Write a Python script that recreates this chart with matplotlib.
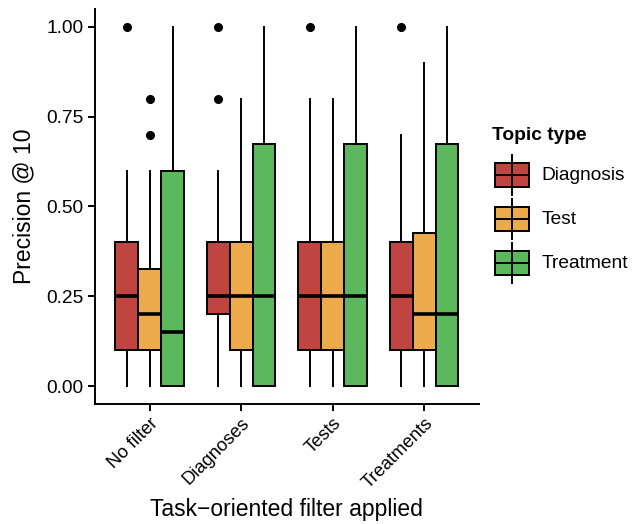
import matplotlib
matplotlib.use("Agg")
import matplotlib.pyplot as plt
from matplotlib.patches import Rectangle

plt.rcParams['font.family'] = ['Liberation Sans', 'DejaVu Sans']

filters = ["No filter", "Diagnoses", "Tests", "Treatments"]
topics = ["Diagnosis", "Test", "Treatment"]
colors = ["#C0443F", "#ECAA4A", "#5CB85C"]

# per topic, per filter: [whislo, q1, med, q3, whishi]
diagnosis_stats = [[0, 0.10, 0.25, 0.40, 0.60],
                   [0, 0.20, 0.25, 0.40, 0.60],
                   [0, 0.10, 0.25, 0.40, 0.80],
                   [0, 0.10, 0.25, 0.40, 0.70]]
test_stats = [[0, 0.10, 0.20, 0.325, 0.60],
              [0, 0.10, 0.25, 0.40, 0.80],
              [0, 0.10, 0.25, 0.40, 0.80],
              [0, 0.10, 0.20, 0.425, 0.90]]
treatment_stats = [[0, 0.0, 0.15, 0.60, 1.00],
                   [0, 0.0, 0.25, 0.675, 1.00],
                   [0, 0.0, 0.25, 0.675, 1.00],
                   [0, 0.0, 0.20, 0.675, 1.00]]
diagnosis_fliers = [[1.0], [1.0, 0.8], [1.0], [1.0]]
test_fliers = [[0.8, 0.7], [], [], []]
treatment_fliers = [[], [], [], []]

all_stats = [diagnosis_stats, test_stats, treatment_stats]
all_fliers = [diagnosis_fliers, test_fliers, treatment_fliers]

fig = plt.figure(figsize=(6.32, 5.24), dpi=100)
ax = fig.add_axes([0.150, 0.229, 0.608, 0.754])

width = 0.25
for t, (stats, fliers, col) in enumerate(zip(all_stats, all_fliers, colors)):
    bstats = []
    for s, f in zip(stats, fliers):
        bstats.append(dict(whislo=s[0], q1=s[1], med=s[2], q3=s[3], whishi=s[4], fliers=f))
    positions = [i + 1 + (t - 1) * width for i in range(len(filters))]
    ax.bxp(bstats, positions=positions, widths=width, patch_artist=True,
           showcaps=False,
           boxprops=dict(facecolor=col, edgecolor='black', linewidth=1.4),
           whiskerprops=dict(color='black', linewidth=1.4),
           medianprops=dict(color='black', linewidth=2.6, solid_capstyle='butt'),
           flierprops=dict(marker='o', markerfacecolor='black', markeredgecolor='black',
                           markersize=5.5))

ax.set_xlim(0.4, 4.6)
ax.set_ylim(-0.05, 1.05)
ax.set_xticks(range(1, 5))
ax.set_xticklabels(filters, rotation=45, ha='right', rotation_mode='anchor', fontsize=13.2)
ax.set_yticks([0, 0.25, 0.5, 0.75, 1.0])
ax.set_yticklabels(["0.00", "0.25", "0.50", "0.75", "1.00"], fontsize=13.8)
for sp in ['top', 'right']:
    ax.spines[sp].set_visible(False)
for sp in ['left', 'bottom']:
    ax.spines[sp].set_linewidth(1.4)
ax.tick_params(width=1.4, length=5, color='black', labelcolor='black', pad=3)
ax.set_ylabel("Precision @ 10", fontsize=16.5, labelpad=8)
ax.set_xlabel("Task\u2212oriented filter applied", fontsize=16.5, labelpad=4)

# legend
fig.text(0.778, 0.742, "Topic type", fontsize=13.8, fontweight='bold', va='center', ha='left')
lax = fig.add_axes([0.78, 0.456, 0.06, 0.252])
lax.set_xlim(0, 1)
lax.set_ylim(0, 3)
lax.axis('off')
for k, (name, col) in enumerate(zip(topics, colors)):
    yc = 2.5 - k
    lax.plot([0.5, 0.5], [yc - 0.45, yc + 0.45], color='black', lw=1.4)
    lax.add_patch(Rectangle((0.05, yc - 0.27), 0.9, 0.54, facecolor=col, edgecolor='black', lw=1.4))
    lax.plot([0.05, 0.95], [yc, yc], color='black', lw=1.4)
    fig.text(0.857, 0.456 + 0.252 * (yc / 3), name, fontsize=13.8, va='center', ha='left')

fig.savefig("out.png", dpi=100)
